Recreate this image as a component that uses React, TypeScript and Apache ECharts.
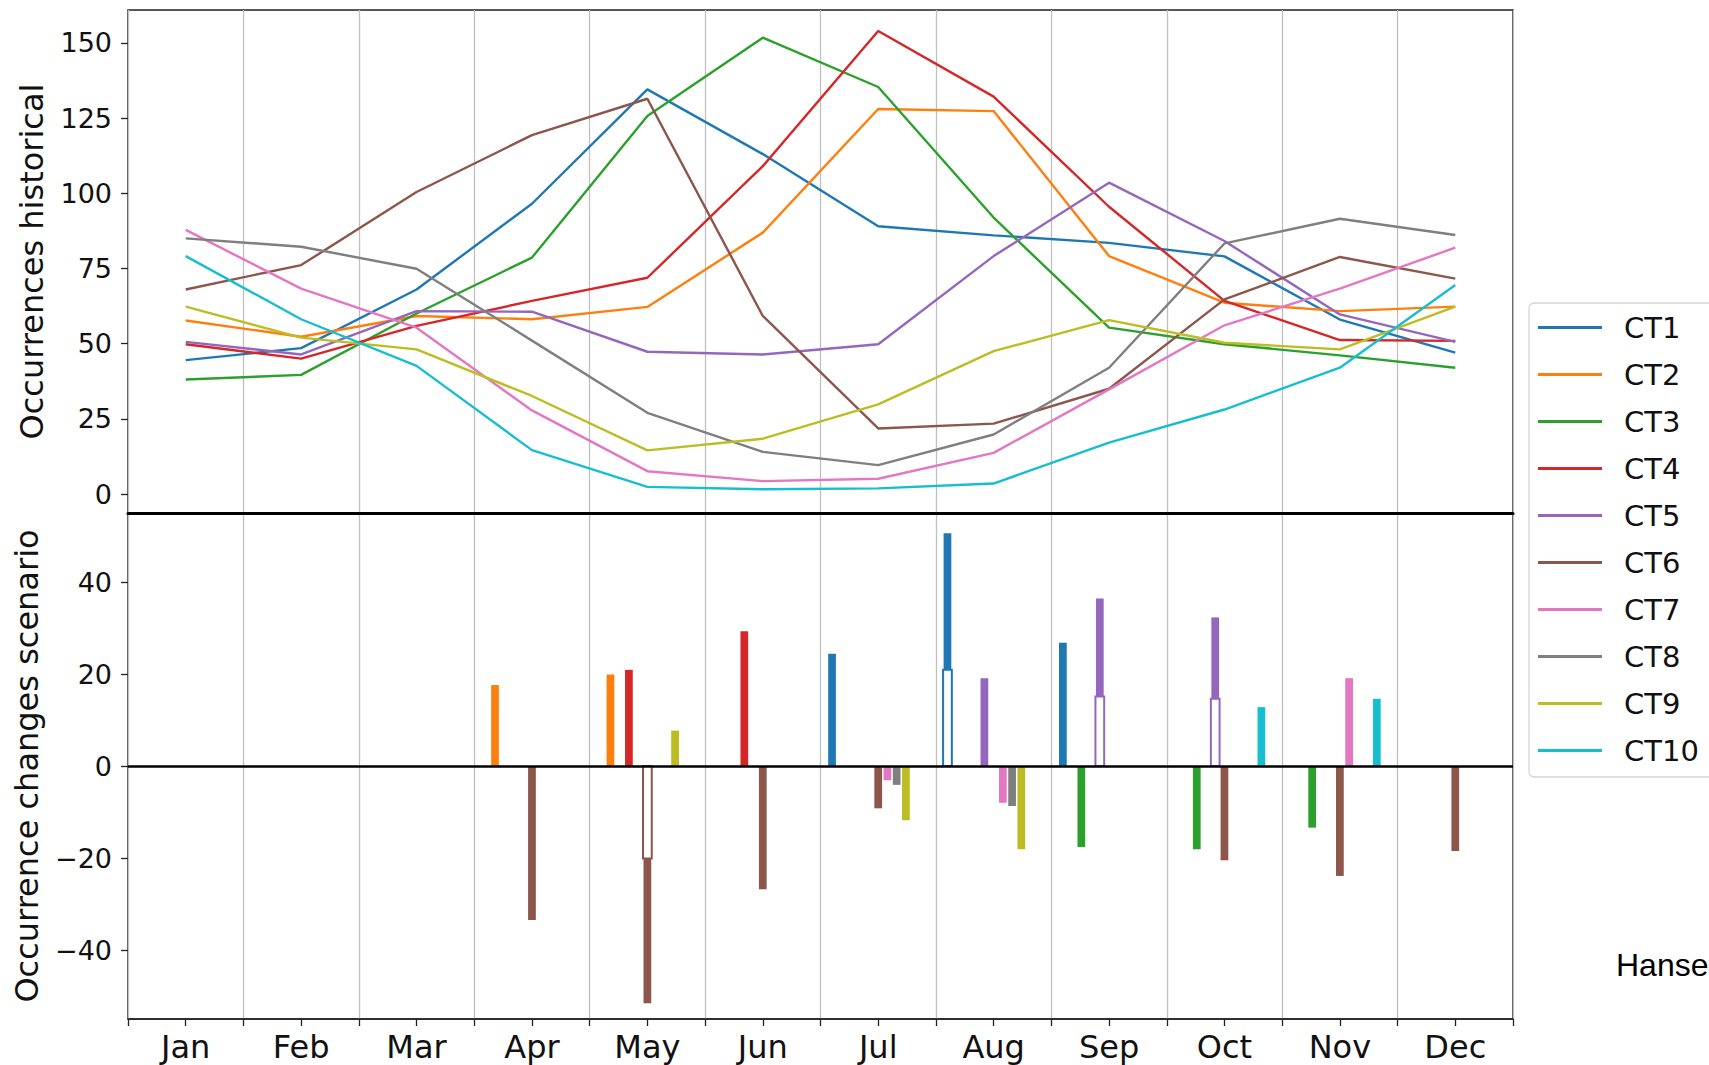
import React, { useEffect, useRef } from 'react';
import * as echarts from 'echarts';

const months = ['Jan', 'Feb', 'Mar', 'Apr', 'May', 'Jun', 'Jul', 'Aug', 'Sep', 'Oct', 'Nov', 'Dec'];
const ctNames = ['CT1', 'CT2', 'CT3', 'CT4', 'CT5', 'CT6', 'CT7', 'CT8', 'CT9', 'CT10'];
const ctColors = ['#1f77b4', '#ff7f0e', '#2ca02c', '#d62728', '#9467bd', '#8c564b', '#e377c2', '#7f7f7f', '#bcbd22', '#17becf'];

// Historical occurrences (top panel)
const histCT1 = [44.5, 48.5, 68, 96.5, 134.5, 113, 89, 86, 83.5, 79, 58, 47];
const histCT2 = [57.7, 52.3, 59.2, 58.1, 62.2, 86.9, 128, 127.3, 79.1, 63.6, 60.8, 62.3];
const histCT3 = [38.1, 39.6, 60, 78.6, 125.7, 151.7, 135.3, 91.9, 55.3, 49.8, 46.1, 42];
const histCT4 = [49.8, 45, 55.9, 64.2, 71.9, 109, 153.9, 132.1, 95.5, 64.2, 51.2, 50.9];
const histCT5 = [50.6, 46.4, 60.8, 60.6, 47.3, 46.4, 49.8, 79.1, 103.5, 84.1, 59.7, 50.6];
const histCT6 = [68, 76.1, 100.4, 119.3, 131.4, 59.2, 21.8, 23.4, 35, 64.7, 78.8, 71.6];
const histCT7 = [87.8, 68.3, 55.3, 27.8, 7.6, 4.3, 5.1, 13.7, 34.8, 56.1, 68.3, 81.9];
const histCT8 = [85, 82.2, 74.9, 51, 27, 14, 9.6, 19.8, 42, 83.3, 91.5, 86.1];
const histCT9 = [62.3, 52, 48.1, 32.6, 14.5, 18.4, 29.8, 47.5, 57.8, 50.3, 48.1, 62.3];
const histCT10 = [79.1, 58.1, 42.6, 14.6, 2.4, 1.6, 1.9, 3.5, 17.1, 28.1, 42, 69.5];
const histAll = [histCT1, histCT2, histCT3, histCT4, histCT5, histCT6, histCT7, histCT8, histCT9, histCT10];

// Occurrence changes in scenario (bottom panel), null = no bar
const N = null;
const chgCT1 = [N, N, N, N, N, N, 24.4, 50.6, 26.8, N, N, N];
const chgCT2 = [N, N, N, 17.6, 19.9, N, N, N, N, N, N, N];
const chgCT3 = [N, N, N, N, N, N, N, N, -17.6, -18.1, -13.4, N];
const chgCT4 = [N, N, N, N, 20.9, 29.3, N, N, N, N, N, N];
const chgCT5 = [N, N, N, N, N, N, N, 19.1, 36.4, 32.3, N, N];
const chgCT6 = [N, N, N, -33.5, -51.6, -26.8, -9.2, N, N, -20.5, -23.9, -18.5];
const chgCT7 = [N, N, N, N, N, N, -3.1, -8.0, N, N, 19.1, N];
const chgCT8 = [N, N, N, N, N, N, -4.1, -8.7, N, N, N, N];
const chgCT9 = [N, N, N, N, 7.7, N, -11.8, -18.1, N, N, N, N];
const chgCT10 = [N, N, N, N, N, N, N, N, N, 12.8, 14.6, N];
const chgAll = [chgCT1, chgCT2, chgCT3, chgCT4, chgCT5, chgCT6, chgCT7, chgCT8, chgCT9, chgCT10];

// Portion of the change drawn as an outlined (hollow) bar
const hollowCT1 = [0, 0, 0, 0, 0, 0, 0, 20.9, 0, 0, 0, 0];
const hollowCT5 = [0, 0, 0, 0, 0, 0, 0, 0, 15.1, 14.6, 0, 0];
const hollowCT6 = [0, 0, 0, 0, -20.1, 0, 0, 0, 0, 0, 0, 0];
const zeros = [0, 0, 0, 0, 0, 0, 0, 0, 0, 0, 0, 0];
const hollowAll = [hollowCT1, zeros, zeros, zeros, hollowCT5, hollowCT6, zeros, zeros, zeros, zeros];

const yTicksTop = [0, 25, 50, 75, 100, 125, 150];
const yTicksBottom = [-40, -20, 0, 20, 40];

const FONT = 'DejaVu Sans';
const GRIDLINE = '#c0c0c0';
const FRAME = '#222';
const SLOT = 0.08;
const BAR_W = 0.067;

function buildOption() {
  const barData: number[][] = [];
  chgAll.forEach((arr, k) => {
    arr.forEach((v, m) => {
      if (v !== null && v !== undefined) {
        barData.push([m + (k - 5) * SLOT, v as number, hollowAll[k][m], k]);
      }
    });
  });

  const monthFmt = (v: number) => {
    const r = Math.round(v);
    return Math.abs(v - r) < 1e-6 && r >= 0 && r < 12 ? months[r] : '';
  };
  const minusFmt = (v: number) => (v < 0 ? '\u2212' + Math.abs(v) : String(v));

  const splitLine = { show: true, lineStyle: { color: [GRIDLINE, 'rgba(0,0,0,0)'], width: 1.3 } };

  const lineSeries = histAll.map((arr, k) => ({
    name: ctNames[k],
    type: 'line',
    xAxisIndex: 0,
    yAxisIndex: 0,
    data: arr.map((v, i) => [i, v]),
    symbol: 'none',
    showSymbol: false,
    lineStyle: { color: ctColors[k], width: 2.4 },
    itemStyle: { color: ctColors[k] },
    z: 3,
  }));

  return {
    animation: false,
    backgroundColor: '#fff',
    textStyle: { fontFamily: FONT },
    grid: [
      { left: 128, top: 10, width: 1385, height: 503, show: true, borderColor: FRAME, borderWidth: 1.5, backgroundColor: 'transparent' },
      { left: 128, top: 513, width: 1385, height: 506, show: true, borderColor: FRAME, borderWidth: 1.5, backgroundColor: 'transparent' },
    ],
    xAxis: [
      {
        type: 'value', gridIndex: 0, min: -0.5, max: 11.5, interval: 0.5,
        axisLine: { show: true, onZero: false, lineStyle: { color: '#000', width: 3 } },
        axisTick: { show: false }, axisLabel: { show: false }, splitLine,
      },
      {
        type: 'value', gridIndex: 1, min: -0.5, max: 11.5, interval: 0.5, position: 'bottom',
        axisLine: { show: true, onZero: false, lineStyle: { color: FRAME, width: 1.5 } },
        axisTick: { show: true, length: 7, lineStyle: { color: FRAME, width: 1.3 } },
        axisLabel: { formatter: monthFmt, fontSize: 32, color: '#111', margin: 12, fontFamily: FONT, showMinLabel: true, showMaxLabel: true },
        splitLine,
      },
    ],
    yAxis: [
      {
        type: 'value', gridIndex: 0, min: -6.3, max: 160.9, position: 'left',
        axisLine: { show: false, onZero: false },
        axisTick: { show: true, length: 7, customValues: yTicksTop, lineStyle: { color: FRAME, width: 1.3 } },
        axisLabel: { customValues: yTicksTop, fontSize: 27, color: '#111', margin: 16, fontFamily: FONT },
        splitLine: { show: false },
        name: 'Occurrences historical', nameLocation: 'middle', nameGap: 80, nameRotate: 90,
        nameTextStyle: { fontSize: 32, color: '#111', fontFamily: FONT },
      },
      {
        type: 'value', gridIndex: 1, min: -55, max: 55, position: 'left',
        axisLine: { show: false, onZero: false },
        axisTick: { show: true, length: 7, customValues: yTicksBottom, lineStyle: { color: FRAME, width: 1.3 } },
        axisLabel: { customValues: yTicksBottom, formatter: minusFmt, fontSize: 27, color: '#111', margin: 16, fontFamily: FONT },
        splitLine: { show: false },
        name: 'Occurrence changes scenario', nameLocation: 'middle', nameGap: 85, nameRotate: 90,
        nameTextStyle: { fontSize: 32, color: '#111', fontFamily: FONT },
      },
    ],
    legend: {
      orient: 'vertical', left: 1538, top: 313, padding: 0, itemGap: 18,
      itemWidth: 64, itemHeight: 3, icon: 'rect', selectedMode: false,
      data: ctNames,
      textStyle: { fontSize: 29, color: '#111', fontFamily: FONT, padding: [0, 0, 0, 17] },
      z: 10,
    },
    graphic: [
      {
        type: 'rect', z: 1,
        shape: { x: 1529, y: 303, width: 190, height: 474, r: 5 },
        style: { fill: 'rgba(255,255,255,0.9)', stroke: '#d6d6d6', lineWidth: 1.3 },
      },
      {
        type: 'text', z: 1, x: 1616, y: 965,
        style: { text: 'Hanse', fontSize: 32, fontFamily: 'Liberation Sans', fill: '#000', verticalAlign: 'middle', align: 'left' },
      },
    ],
    series: [
      ...lineSeries,
      {
        name: 'changes',
        type: 'custom',
        xAxisIndex: 1,
        yAxisIndex: 1,
        clip: true,
        silent: true,
        z: 3,
        encode: { x: 0, y: 1 },
        data: barData,
        renderItem: (params: any, api: any) => {
          const x = api.value(0);
          const v = api.value(1);
          const h = api.value(2);
          const k = api.value(3);
          const color = ctColors[k];
          const a = api.coord([x - BAR_W / 2, h]);
          const b = api.coord([x + BAR_W / 2, v]);
          const children: any[] = [
            {
              type: 'rect',
              shape: { x: a[0], y: Math.min(a[1], b[1]), width: b[0] - a[0], height: Math.abs(b[1] - a[1]) },
              style: { fill: color },
            },
          ];
          if (h !== 0) {
            const c = api.coord([x - BAR_W / 2, 0]);
            const d = api.coord([x + BAR_W / 2, h]);
            children.push({
              type: 'rect',
              shape: { x: c[0] - 0.5, y: Math.min(c[1], d[1]), width: d[0] - c[0] + 1, height: Math.abs(d[1] - c[1]) },
              style: { fill: '#fff', stroke: color, lineWidth: 2 },
            });
          }
          return { type: 'group', children };
        },
        markLine: {
          silent: true,
          symbol: 'none',
          label: { show: false },
          lineStyle: { color: '#000', width: 2.6, type: 'solid' },
          data: [{ yAxis: 0 }],
          z: 5,
        },
      },
    ],
  };
}

export default function App() {
  const ref = useRef<HTMLDivElement>(null);
  useEffect(() => {
    if (!ref.current) return;
    const chart = echarts.init(ref.current, undefined, { renderer: 'svg' });
    chart.setOption(buildOption() as any);
    return () => chart.dispose();
  }, []);
  return (
    <div
      ref={ref}
      style={{ position: 'fixed', left: 0, top: 0, width: 1709, height: 1065, background: '#fff' }}
    />
  );
}
